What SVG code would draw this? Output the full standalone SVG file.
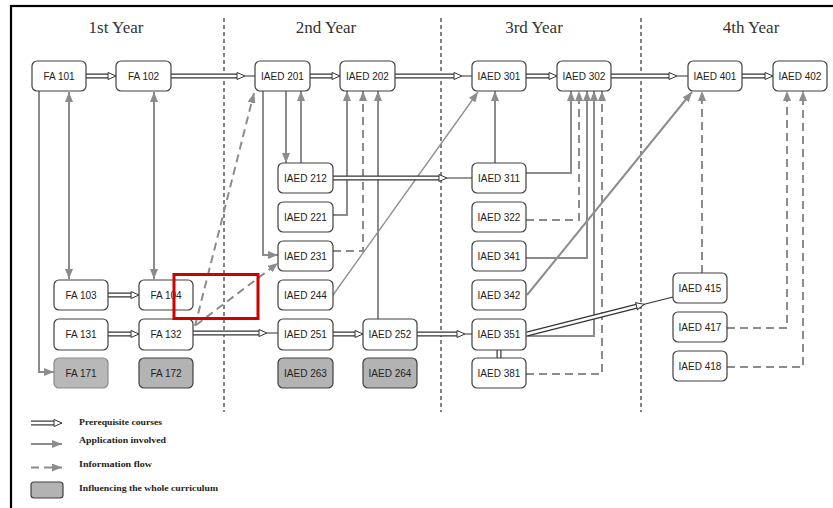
<svg xmlns="http://www.w3.org/2000/svg" width="833" height="508" viewBox="0 0 833 508">
<defs>
<style>
.n rect{fill:#fff;stroke:#404040;stroke-width:1.2}
.n.g rect{fill:#b3b3b3}
.n.lg rect{fill:#b8b8b8;stroke:#8a8a8a}
.n text{font-family:"Liberation Sans",Arial,sans-serif;font-size:10px;fill:#222;text-anchor:middle}
.yr{font-family:"Liberation Serif","Times New Roman",serif;font-size:17px;fill:#333;text-anchor:middle}
.sep{stroke:#333;stroke-width:1.2;stroke-dasharray:4 3;fill:none}
.po{stroke:#333;stroke-width:5;fill:none}
.pi{stroke:#fff;stroke-width:2.6;fill:none}
.ps{stroke:#333;stroke-width:1.2;fill:none}
.ph{fill:#fff;stroke:#333;stroke-width:1}
.ap{stroke:#8c8c8c;stroke-width:2;fill:none;marker-end:url(#ah)}
.ap2{stroke:#8c8c8c;stroke-width:2;fill:none;marker-end:url(#ah);marker-start:url(#ah)}
.at{stroke:#8c8c8c;stroke-width:1.3;fill:none;marker-end:url(#ah)}
.if{stroke:#8c8c8c;stroke-width:2;fill:none;stroke-dasharray:8 5;marker-end:url(#ah)}
.lt{font-family:"Liberation Serif","Times New Roman",serif;font-size:9px;fill:#222;font-weight:bold}
</style>
<marker id="ah" viewBox="0 0 10 8" refX="10" refY="4" markerWidth="10" markerHeight="8" markerUnits="userSpaceOnUse" orient="auto-start-reverse"><path d="M0,0 L10,4 L0,8 z" fill="#8c8c8c"/></marker>
</defs>
<rect x="0" y="0" width="833" height="508" fill="#fff"/>
<rect x="11" y="6" width="830" height="510" fill="none" stroke="#000" stroke-width="2.2"/>

<g id="year-labels">
<text class="yr" x="116" y="33">1st Year</text>
<text class="yr" x="326" y="33">2nd Year</text>
<text class="yr" x="534" y="33">3rd Year</text>
<text class="yr" x="751" y="33">4th Year</text>
</g>

<g id="separators">
<path class="sep" d="M224,18V412M441,18V412M641,18V412"/>
</g>

<g id="connectors">
<!-- information flow (dashed) -->
<path class="if" d="M195,326 L254,93"/>
<path class="if" d="M196,325 L278,263"/>
<path class="if" d="M333,251 H363 V91"/>
<path class="if" d="M526,220 H579 V91"/>
<path class="if" d="M526,374 H602 V91"/>
<path class="if" d="M702,273 V91"/>
<path class="if" d="M727,328 H787 V91"/>
<path class="if" d="M727,367 H803 V91"/>
<!-- application involved -->
<path class="ap2" d="M69,92 V279"/>
<path class="ap2" d="M154,92 V279"/>
<path class="ap" d="M39,91 V372 H54"/>
<path class="ap" d="M286,91 V163"/>
<path class="ap" d="M301,163 V91"/>
<path class="ap" d="M263,91 V255 H278"/>
<path class="ap" d="M333,215 H347 V91"/>
<path class="ap" d="M378,319 V91"/>
<path class="at" d="M333,295 L478,92"/>
<path class="ap" d="M495,163 V91"/>
<path class="ap" d="M526,173 H571 V91"/>
<path class="ap" d="M526,258 H587 V91"/>
<path class="ap" d="M526,336 H594 V91"/>
<path class="ap" d="M527,295 L692,92"/>
<!-- prerequisite courses (double line) -->
<path class="po" d="M86,76H108M310,76H332M526,76H549M742,76H765M108,295H131M108,334H131M333,334H355M171,76H237M395,76H454M611,76H669M333,178H439M193,333H259M417,334H457M499,350V358"/>
<path class="pi" d="M86,76H108M310,76H332M526,76H549M742,76H765M108,295H131M108,334H131M333,334H355M171,76H237M395,76H454M611,76H669M333,178H439M193,333H259M417,334H457M499,350V358"/>
<path class="ps" d="M245,76H255M462,76H472M677,76H688M447,178H472M267,333H278M465,334H472"/>
<polygon class="ph" points="108,72.5 116,76 108,79.5"/>
<polygon class="ph" points="332,72.5 340,76 332,79.5"/>
<polygon class="ph" points="549,72.5 557,76 549,79.5"/>
<polygon class="ph" points="765,72.5 773,76 765,79.5"/>
<polygon class="ph" points="131,291.5 139,295 131,298.5"/>
<polygon class="ph" points="131,330.5 139,334 131,337.5"/>
<polygon class="ph" points="355,330.5 363,334 355,337.5"/>
<polygon class="ph" points="237,72.5 245,76 237,79.5"/>
<polygon class="ph" points="454,72.5 462,76 454,79.5"/>
<polygon class="ph" points="669,72.5 677,76 669,79.5"/>
<polygon class="ph" points="439,174.5 447,178 439,181.5"/>
<polygon class="ph" points="259,329.5 267,333 259,336.5"/>
<polygon class="ph" points="457,330.5 465,334 457,337.5"/>
<g transform="translate(527,334) rotate(-14.22)">
<path class="po" d="M0,0H113"/>
<path class="pi" d="M0,0H113"/>
<path class="ps" d="M121,0H150.6"/>
<polygon class="ph" points="113,-3.5 121,0 113,3.5"/>
</g>
</g>

<g id="fa101" class="n"><rect x="32" y="61" width="54" height="30" rx="5"/><text x="59" y="79.5">FA 101</text></g>
<g id="fa102" class="n"><rect x="116" y="61" width="55" height="30" rx="5"/><text x="143.5" y="79.5">FA 102</text></g>
<g id="iaed201" class="n"><rect x="255" y="61" width="55" height="30" rx="5"/><text x="282.5" y="79.5">IAED 201</text></g>
<g id="iaed202" class="n"><rect x="340" y="61" width="55" height="30" rx="5"/><text x="367.5" y="79.5">IAED 202</text></g>
<g id="iaed301" class="n"><rect x="472" y="61" width="54" height="30" rx="5"/><text x="499" y="79.5">IAED 301</text></g>
<g id="iaed302" class="n"><rect x="557" y="61" width="54" height="30" rx="5"/><text x="584" y="79.5">IAED 302</text></g>
<g id="iaed401" class="n"><rect x="688" y="61" width="54" height="30" rx="5"/><text x="715" y="79.5">IAED 401</text></g>
<g id="iaed402" class="n"><rect x="773" y="61" width="54" height="30" rx="5"/><text x="800" y="79.5">IAED 402</text></g>
<g id="iaed212" class="n"><rect x="278" y="163" width="55" height="30" rx="5"/><text x="305.5" y="181.5">IAED 212</text></g>
<g id="iaed311" class="n"><rect x="472" y="163" width="54" height="30" rx="5"/><text x="499" y="181.5">IAED 311</text></g>
<g id="iaed221" class="n"><rect x="278" y="202" width="55" height="30" rx="5"/><text x="305.5" y="220.5">IAED 221</text></g>
<g id="iaed322" class="n"><rect x="472" y="202" width="54" height="30" rx="5"/><text x="499" y="220.5">IAED 322</text></g>
<g id="iaed231" class="n"><rect x="278" y="241" width="55" height="30" rx="5"/><text x="305.5" y="259.5">IAED 231</text></g>
<g id="iaed341" class="n"><rect x="472" y="241" width="54" height="30" rx="5"/><text x="499" y="259.5">IAED 341</text></g>
<g id="iaed244" class="n"><rect x="278" y="280" width="55" height="30" rx="5"/><text x="305.5" y="298.5">IAED 244</text></g>
<g id="iaed342" class="n"><rect x="472" y="280" width="54" height="30" rx="5"/><text x="499" y="298.5">IAED 342</text></g>
<g id="iaed251" class="n"><rect x="278" y="319" width="55" height="31" rx="5"/><text x="305.5" y="338">IAED 251</text></g>
<g id="iaed252" class="n"><rect x="363" y="319" width="54" height="31" rx="5"/><text x="390" y="338">IAED 252</text></g>
<g id="iaed351" class="n"><rect x="472" y="319" width="54" height="31" rx="5"/><text x="499" y="338">IAED 351</text></g>
<g id="iaed263" class="n g"><rect x="278" y="358" width="55" height="30" rx="5"/><text x="305.5" y="376.5">IAED 263</text></g>
<g id="iaed264" class="n g"><rect x="363" y="358" width="54" height="30" rx="5"/><text x="390" y="376.5">IAED 264</text></g>
<g id="iaed381" class="n"><rect x="472" y="358" width="54" height="30" rx="5"/><text x="499" y="376.5">IAED 381</text></g>
<g id="fa103" class="n"><rect x="54" y="280" width="54" height="30" rx="5"/><text x="81" y="298.5">FA 103</text></g>
<g id="fa104" class="n"><rect x="139" y="280" width="54" height="30" rx="5"/><text x="166" y="298.5">FA 104</text></g>
<g id="fa131" class="n"><rect x="54" y="319" width="54" height="31" rx="5"/><text x="81" y="338">FA 131</text></g>
<g id="fa132" class="n"><rect x="139" y="319" width="54" height="31" rx="5"/><text x="166" y="338">FA 132</text></g>
<g id="fa171" class="n lg"><rect x="54" y="358" width="54" height="30" rx="5"/><text x="81" y="376.5">FA 171</text></g>
<g id="fa172" class="n g"><rect x="139" y="358" width="54" height="30" rx="5"/><text x="166" y="376.5">FA 172</text></g>
<g id="iaed415" class="n"><rect x="673" y="273" width="54" height="30" rx="5"/><text x="700" y="291.5">IAED 415</text></g>
<g id="iaed417" class="n"><rect x="673" y="312" width="54" height="30" rx="5"/><text x="700" y="330.5">IAED 417</text></g>
<g id="iaed418" class="n"><rect x="673" y="351" width="54" height="30" rx="5"/><text x="700" y="369.5">IAED 418</text></g>

<g id="highlight">
<rect x="174" y="274.5" width="84" height="44" fill="none" stroke="#d00000" stroke-width="3"/>
</g>

<g id="legend">
<path class="po" d="M31,423H54"/><path class="pi" d="M31,423H54"/>
<polygon class="ph" points="54,419.5 62,423 54,426.5"/>
<path class="ap" d="M31,444H62"/>
<path class="if" d="M31,467.5H62" stroke-dasharray="9 5"/>
<rect x="31" y="482" width="32" height="16" rx="3" fill="#b3b3b3" stroke="#404040" stroke-width="1.2"/>
<text class="lt" x="79" y="425" textLength="83" lengthAdjust="spacingAndGlyphs">Prerequisite courses</text>
<text class="lt" x="79" y="443" textLength="87" lengthAdjust="spacingAndGlyphs">Application involved</text>
<text class="lt" x="79" y="467" textLength="73" lengthAdjust="spacingAndGlyphs">Information flow</text>
<text class="lt" x="79" y="491" textLength="139" lengthAdjust="spacingAndGlyphs">Influencing the whole curriculum</text>
</g>
</svg>
